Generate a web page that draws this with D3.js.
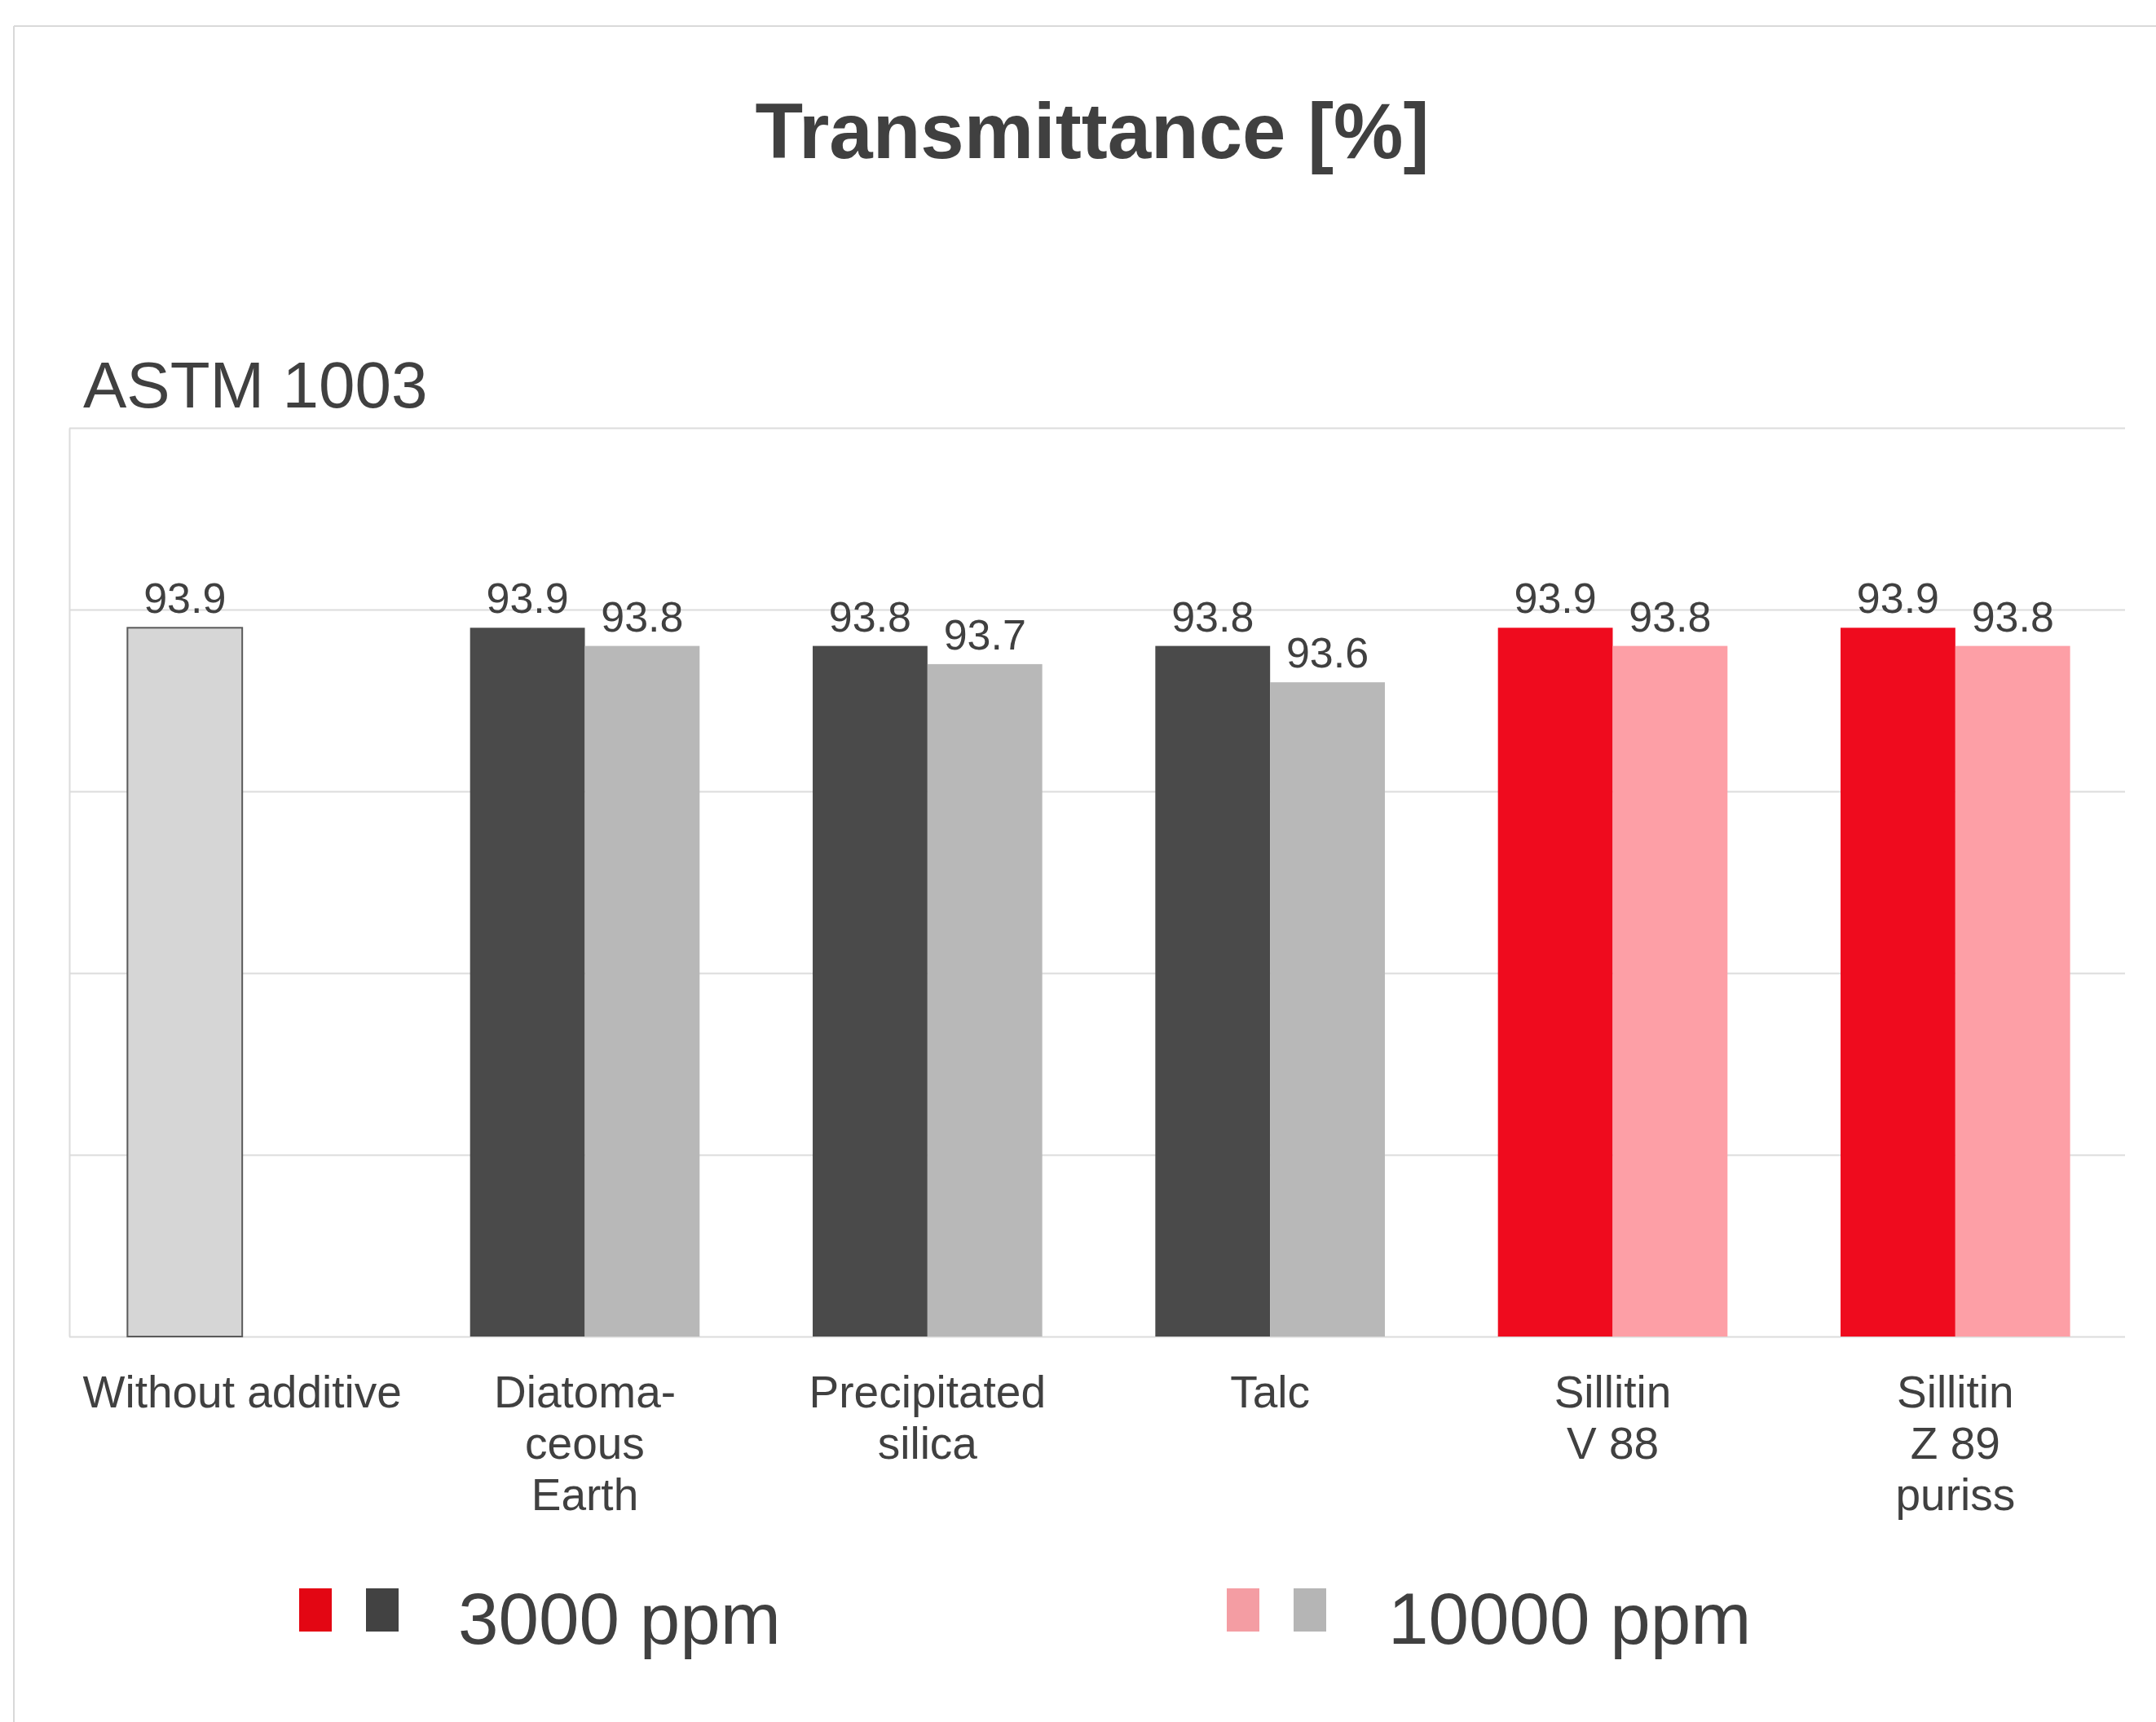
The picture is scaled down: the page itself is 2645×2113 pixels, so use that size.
<!DOCTYPE html>
<html>
<head>
<meta charset="utf-8">
<script src="https://cdn.jsdelivr.net/npm/d3@7"></script>
<style>
  html, body { margin: 0; padding: 0; background: #ffffff; }
  svg { display: block; }
  text { font-family: "Liberation Sans", Arial, Helvetica, sans-serif; fill: #404040; }
</style>
</head>
<body>
<svg id="chart" width="2645" height="2113"></svg>
<script>
// ---- data ----
const categories = ["Without additive", "Diatomaceous Earth", "Precipitated silica", "Talc", "Sillitin V 88", "Sillitin Z 89 puriss"];
const categoryLines = [["Without additive"], ["Diatoma-", "ceous", "Earth"], ["Precipitated", "silica"], ["Talc"], ["Sillitin", "V 88"], ["Sillitin", "Z 89", "puriss"]];
const categoryGroup = ["none", "filler", "filler", "filler", "sillitin", "sillitin"];
const series = ["3000 ppm", "10000 ppm"];
const values3000 = [93.9, 93.9, 93.8, 93.8, 93.9, 93.9];
const values10000 = [null, 93.8, 93.7, 93.6, 93.8, 93.8];
const yTicks = [90, 91, 92, 93, 94, 95];
const titleText = "Transmittance [%]";
const subtitleText = "ASTM 1003";

// ---- styles ----
const barColors = {
  none:     ["#d6d6d6", "#d6d6d6"],
  filler:   ["#4a4a4a", "#b8b8b8"],
  sillitin: ["#ef0b1e", "#fd9fa6"]
};
const legendColors = [["#e30613", "#424242"], ["#f49da3", "#b5b5b5"]];

const svg = d3.select("#chart");
const W = 2645, H = 2113;
const plot = { left: 85, right: 2607, top: 525, bottom: 1640 };

// outer frame
svg.append("line").attr("x1", 17).attr("x2", 17).attr("y1", 32).attr("y2", H)
  .attr("stroke", "#d9d9d9").attr("stroke-width", 2);
svg.append("line").attr("x1", 17).attr("x2", W).attr("y1", 32).attr("y2", 32)
  .attr("stroke", "#d9d9d9").attr("stroke-width", 2);

// title
svg.append("text").attr("x", 1340).attr("y", 194).attr("text-anchor", "middle")
  .attr("font-size", 96).attr("font-weight", "bold").text(titleText);
svg.append("text").attr("x", 102).attr("y", 500)
  .attr("font-size", 80).text(subtitleText);

// scales
const y = d3.scaleLinear().domain([90, 95]).range([plot.bottom, plot.top]);
const x0 = d3.scaleBand().domain(categories).range([plot.left + 2, plot.right + 2])
  .paddingInner(0.33).paddingOuter(0.165);
const x1 = d3.scaleBand().domain(series).range([0, x0.bandwidth()]);

// grid / axis
const yAxis = d3.axisLeft(y).tickValues(yTicks).tickFormat("")
  .tickSizeInner(-(plot.right - plot.left)).tickSizeOuter(0);
const gy = svg.append("g").attr("transform", `translate(${plot.left},0)`).call(yAxis);
gy.selectAll("line").attr("stroke", "#dcdcdc").attr("stroke-width", 2);
gy.select(".domain").attr("stroke", "#dcdcdc").attr("stroke-width", 2);

// bars
const rows = [];
categories.forEach((c, i) => {
  [values3000[i], values10000[i]].forEach((v, s) => {
    if (v !== null) rows.push({ cat: c, i, s, v });
  });
});

svg.append("g").selectAll("rect").data(rows).join("rect")
  .attr("x", d => x0(d.cat) + x1(series[d.s]))
  .attr("y", d => y(d.v))
  .attr("width", x1.bandwidth())
  .attr("height", d => y(90) - y(d.v))
  .attr("fill", d => barColors[categoryGroup[d.i]][d.s])
  .attr("stroke", d => categoryGroup[d.i] === "none" ? "#5a5a5a" : "none")
  .attr("stroke-width", 2);

// value labels
svg.append("g").selectAll("text").data(rows).join("text")
  .attr("x", d => x0(d.cat) + x1(series[d.s]) + x1.bandwidth() / 2)
  .attr("y", d => y(d.v) - 18)
  .attr("text-anchor", "middle")
  .attr("font-size", 52)
  .text(d => d.v.toFixed(1));

// category labels
const cl = svg.append("g").selectAll("text").data(categories).join("text")
  .attr("text-anchor", "middle")
  .attr("font-size", 55)
  .attr("y", 1727);
cl.each(function (d, i) {
  const t = d3.select(this);
  const cx = x0(d) + x0.bandwidth() / 2;
  categoryLines[i].forEach((line, k) => {
    t.append("tspan").attr("x", cx).attr("dy", k === 0 ? 0 : 63).text(line);
  });
});

// legend
const legendItems = [
  { label: series[0], colors: legendColors[0], x: 367, tx: 562 },
  { label: series[1], colors: legendColors[1], x: 1505, tx: 1703 }
];
const lg = svg.append("g");
legendItems.forEach(item => {
  item.colors.forEach((c, k) => {
    lg.append("rect").attr("x", item.x + k * 82).attr("y", 1949)
      .attr("width", 40).attr("height", 53).attr("fill", c);
  });
  lg.append("text").attr("x", item.tx).attr("y", 2017)
    .attr("font-size", 89).text(item.label);
});
</script>
</body>
</html>
